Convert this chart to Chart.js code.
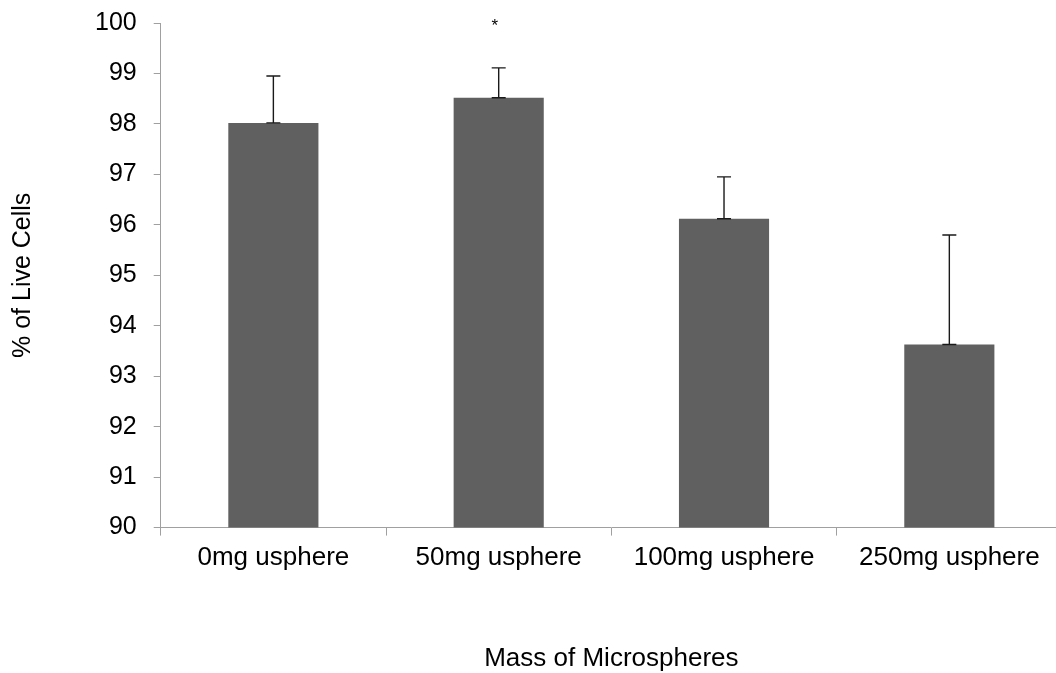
<!DOCTYPE html>
<html>
<head>
<meta charset="utf-8">
<script src="https://cdn.jsdelivr.net/npm/chart.js@4/dist/chart.umd.min.js"></script>
<style>
  html, body { margin: 0; padding: 0; background: #fff; overflow: hidden; }
  #wrap { width: 1056px; height: 673px; overflow: hidden; position: relative; }
  #c { position: absolute; left: 0; top: -9px; }
</style>
</head>
<body>
<div id="wrap"><canvas id="c" width="1062" height="683"></canvas></div>
<script>
// Cell viability by microsphere mass
const categories = ['0mg usphere', '50mg usphere', '100mg usphere', '250mg usphere'];
const liveCells = [98.02, 98.52, 96.12, 93.63];
const errorUpper = [0.93, 0.59, 0.83, 2.17];
const significance = ['', '*', '', ''];
const yTicks = [90, 91, 92, 93, 94, 95, 96, 97, 98, 99, 100];

const FONT = 'Liberation Sans, Arial, sans-serif';

// Upper error whiskers plus significance markers above bars
const errorBarPlugin = {
  id: 'errorBars',
  afterDatasetsDraw(chart) {
    const ctx = chart.ctx;
    const x = chart.scales.x, y = chart.scales.y;
    ctx.save();
    ctx.strokeStyle = '#1a1a1a';
    ctx.lineWidth = 1.4;
    liveCells.forEach((v, i) => {
      const cx = x.getPixelForValue(i);
      const y0 = y.getPixelForValue(v);
      const y1 = y.getPixelForValue(v + errorUpper[i]);
      ctx.beginPath();
      ctx.moveTo(cx, y0); ctx.lineTo(cx, y1);
      ctx.moveTo(cx - 7, y1); ctx.lineTo(cx + 7, y1);
      ctx.moveTo(cx - 7, y0); ctx.lineTo(cx + 7, y0);
      ctx.stroke();
      if (significance[i]) {
        ctx.fillStyle = '#000';
        ctx.font = '17px ' + FONT;
        ctx.textAlign = 'center';
        ctx.textBaseline = 'middle';
        ctx.fillText(significance[i], cx - 4, y.getPixelForValue(100) + 3);
      }
    });
    ctx.restore();
  }
};

new Chart(document.getElementById('c'), {
  type: 'bar',
  data: {
    labels: categories,
    datasets: [{
      data: liveCells,
      backgroundColor: '#606060',
      borderWidth: 0,
      barPercentage: 0.4,
      categoryPercentage: 1.0
    }]
  },
  options: {
    responsive: false,
    animation: false,
    layout: { padding: { top: 1.5, left: 8, right: 0, bottom: 0 } },
    plugins: { legend: { display: false }, tooltip: { enabled: false } },
    scales: {
      x: {
        grid: { display: true, drawOnChartArea: false, drawTicks: true, tickLength: 8, offset: true, color: '#a0a0a0' },
        border: { color: '#a0a0a0', width: 1 },
        ticks: { color: '#000', font: { family: FONT, size: 26 }, padding: 7, maxRotation: 0 },
        title: { display: true, text: 'Mass of Microspheres', color: '#000', font: { family: FONT, size: 26 }, padding: { top: 62, bottom: 0 } }
      },
      y: {
        min: 90, max: 100,
        afterBuildTicks(axis) { axis.ticks = yTicks.map(v => ({ value: v })); },
        grid: { display: true, drawOnChartArea: false, drawTicks: true, tickLength: 7, color: '#a0a0a0' },
        border: { color: '#a0a0a0', width: 1 },
        ticks: { color: '#000', font: { family: FONT, size: 25 }, padding: 17 },
        title: { display: true, text: '% of Live Cells', color: '#000', font: { family: FONT, size: 25 }, padding: { top: 0, bottom: 40 } }
      }
    }
  },
  plugins: [errorBarPlugin]
});
</script>
</body>
</html>
